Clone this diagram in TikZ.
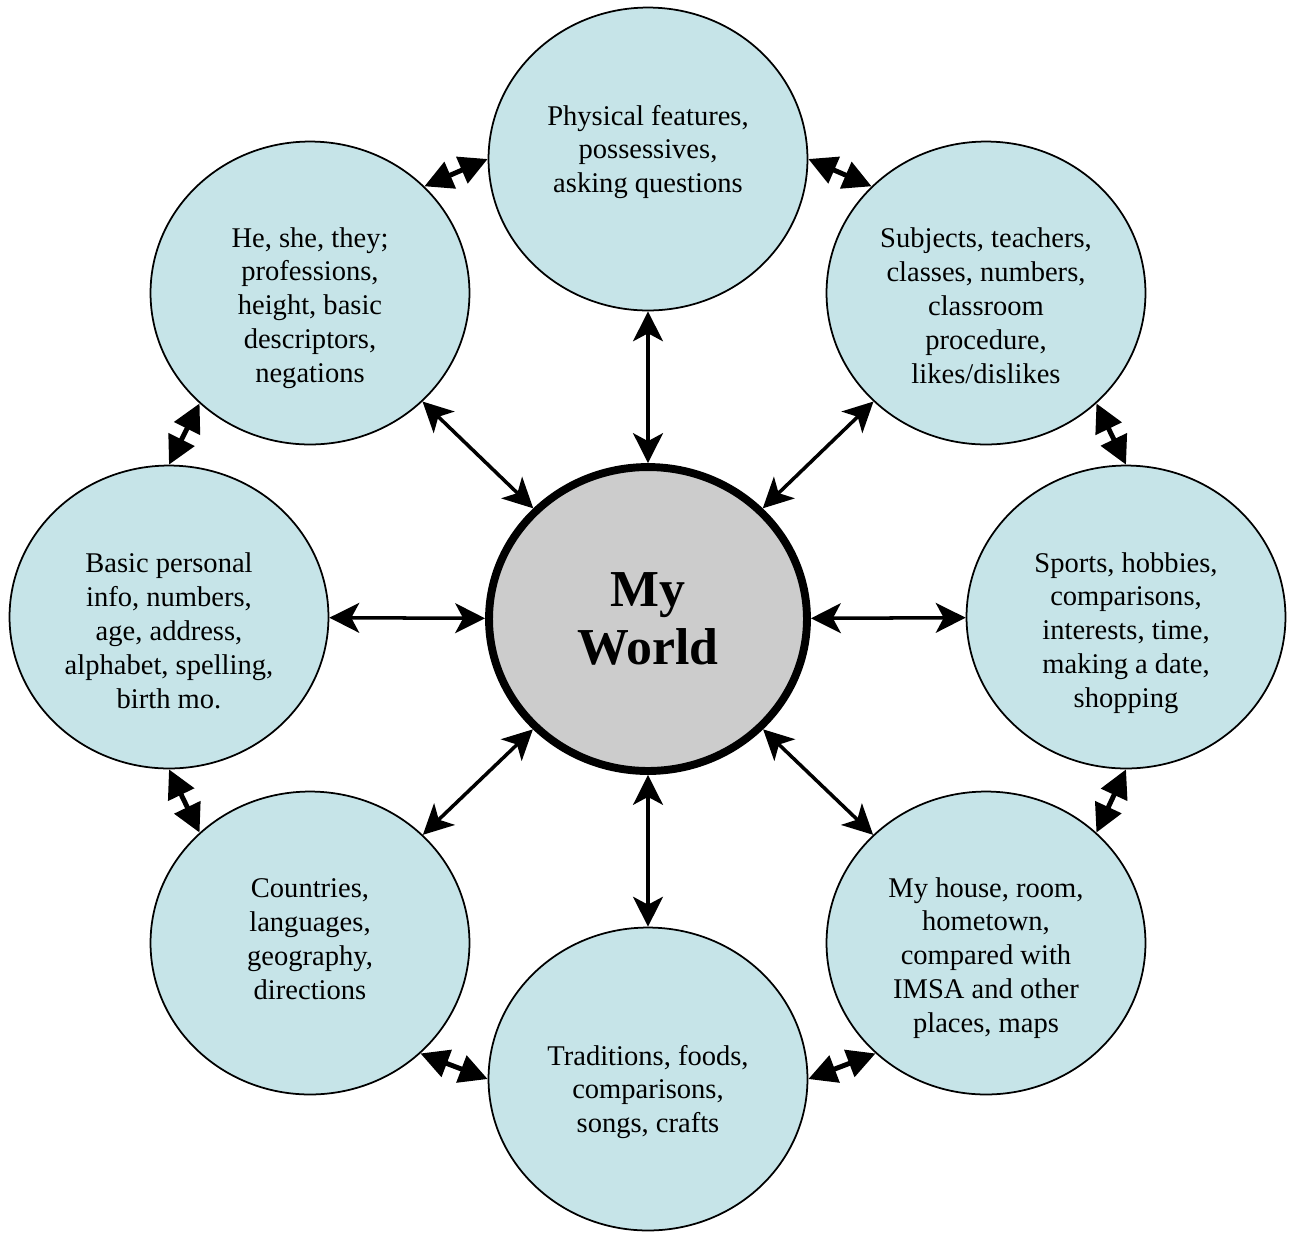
\documentclass[tikz,border=0pt]{standalone}
\usepackage{fontspec}
\setmainfont{Liberation Serif}
\usetikzlibrary{shapes.geometric}
\usetikzlibrary{arrows.meta}
\definecolor{TopicBlue}{RGB}{198,228,232}
\definecolor{HubGray}{RGB}{204,204,204}
\tikzset{
	topic/.style={ellipse,draw=black,line width=1pt,fill=TopicBlue,inner sep=0pt,
		minimum width=6.38cm,minimum height=6.06cm},
	note/.style={align=center,inner sep=0pt,font=\fontsize{16.25}{19.3}\selectfont},
	hub/.style={ellipse,draw=black,line width=4.5pt,fill=HubGray,inner sep=0pt,
		minimum width=6.36cm,minimum height=6.08cm,align=center,
		font=\fontsize{29.5}{33}\selectfont\bfseries},
	spoke/.style={line width=2pt,
		{Stealth[length=17pt,width=17pt,inset=4.5pt]}-{Stealth[length=17pt,width=17pt,inset=4.5pt]}},
	link/.style={line width=2.8pt,
		{Triangle[length=16pt,width=16pt]}-{Triangle[length=16pt,width=16pt]}},
}

\begin{document}
\begin{tikzpicture}[x=0.02cm,y=-0.02cm]
	\useasboundingbox (0,0) rectangle (1295,1232);
	\node[hub] (hub) at (648,619) {My\\World};
	% ring of topics
	\node[topic] (phys) at (648,159) {};
	\node[topic] (pron) at (310,293) {};
	\node[topic] (school) at (986,293) {};
	\node[topic] (personal) at (169,617) {};
	\node[topic] (sports) at (1126,617) {};
	\node[topic] (geo) at (310,943) {};
	\node[topic] (house) at (986,943) {};
	\node[topic] (culture) at (648,1079) {};
	% texts, a little off centre
	\node[note] (phys-t) at (648,152) {Physical features,\\possessives,\\asking questions};
	\node[note] (pron-t) at (310,308) {He, she, they;\\professions,\\height, basic\\descriptors,\\negations};
	\node[note] (school-t) at (986,306) {Subjects, teachers,\\classes, numbers,\\classroom\\procedure,\\likes/dislikes};
	\node[note] (personal-t) at (169,631) {Basic personal\\info, numbers,\\age, address,\\alphabet, spelling,\\birth mo.};
	\node[note] (sports-t) at (1126,633) {Sports, hobbies,\\comparisons,\\interests, time,\\making a date,\\shopping};
	\node[note] (geo-t) at (310,939) {Countries,\\languages,\\geography,\\directions};
	\node[note] (house-t) at (986,958) {My house, room,\\hometown,\\compared with\\IMSA and other\\places, maps};
	\node[note] (culture-t) at (648,1092) {Traditions, foods,\\comparisons,\\songs, crafts};
	% spokes out of the hub
	\foreach \t in {phys,pron,school,personal,sports,geo,house,culture}
	\draw[spoke] (hub)--(\t);
	% short links round the ring
	\foreach \x/\y in {pron.43/phys.west,phys.east/school.137,school.-45/sports.north,sports.south/house.45,house.-135/culture.east,culture.west/geo.-45,geo.135/personal.south,personal.north/pron.-135}
	\draw[link] (\x)--(\y);
\end{tikzpicture}
\end{document}
